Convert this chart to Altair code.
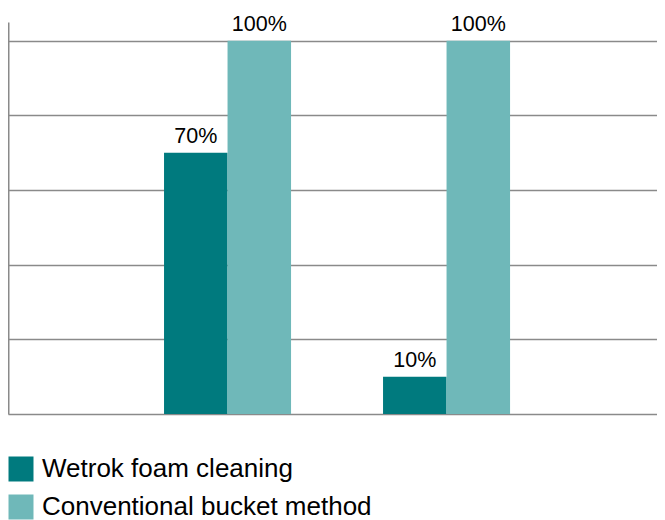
import altair as alt
import pandas as pd

categories = ["Category 1", "Category 2"]
series = ["Wetrok foam cleaning", "Conventional bucket method"]
wetrok_values = [70, 10]
bucket_values = [100, 100]
colors = ["#007A7E", "#6FB8B9"]
gridline_values = [0, 20, 40, 60, 80, 100]

rows = []
for i, c in enumerate(categories):
    rows.append({"category": c, "series": series[0], "value": wetrok_values[i]})
    rows.append({"category": c, "series": series[1], "value": bucket_values[i]})
df = pd.DataFrame(rows)
df["label"] = df["value"].astype(str) + "%"

x_enc = alt.X("category:N", sort=categories, axis=None,
              scale=alt.Scale(paddingInner=0.42, paddingOuter=0.6917, align=0.515))
xo_enc = alt.XOffset("series:N", sort=series, scale=alt.Scale(paddingInner=0, paddingOuter=0))
y_enc = alt.Y("value:Q", scale=alt.Scale(domain=[0, 105], nice=False, zero=True),
              axis=alt.Axis(values=gridline_values, labels=False, ticks=False, title=None,
                            domain=True, domainColor="#8a8a8a", domainWidth=2,
                            grid=True, gridColor="#8a8a8a", gridWidth=1.6))

bars = alt.Chart(df).mark_bar().encode(
    x=x_enc,
    xOffset=xo_enc,
    y=y_enc,
    color=alt.Color("series:N", sort=series,
                    scale=alt.Scale(domain=series, range=colors),
                    legend=alt.Legend(title=None, orient="none", legendX=0, legendY=434,
                                      symbolType="square", symbolSize=625,
                                      symbolStrokeWidth=0, labelFontSize=26,
                                      labelFont="Liberation Sans", labelColor="#000000",
                                      rowPadding=12, labelOffset=8, padding=0,
                                      labelLimit=1000, direction="vertical")),
)

labels = alt.Chart(df).mark_text(
    baseline="alphabetic", dy=-10, fontSize=21.5, font="Liberation Sans", color="#000000"
).encode(
    x=x_enc,
    xOffset=xo_enc,
    y=alt.Y("value:Q"),
    text="label:N",
)

chart = alt.layer(bars, labels).properties(
    width=649, height=392,
    autosize=alt.AutoSizeParams(type="none"),
    padding={"left": 0, "top": 14, "right": 0, "bottom": 106},
).configure_view(stroke=None)

chart.save("out.html", embed_options={"renderer": "svg", "actions": False})
